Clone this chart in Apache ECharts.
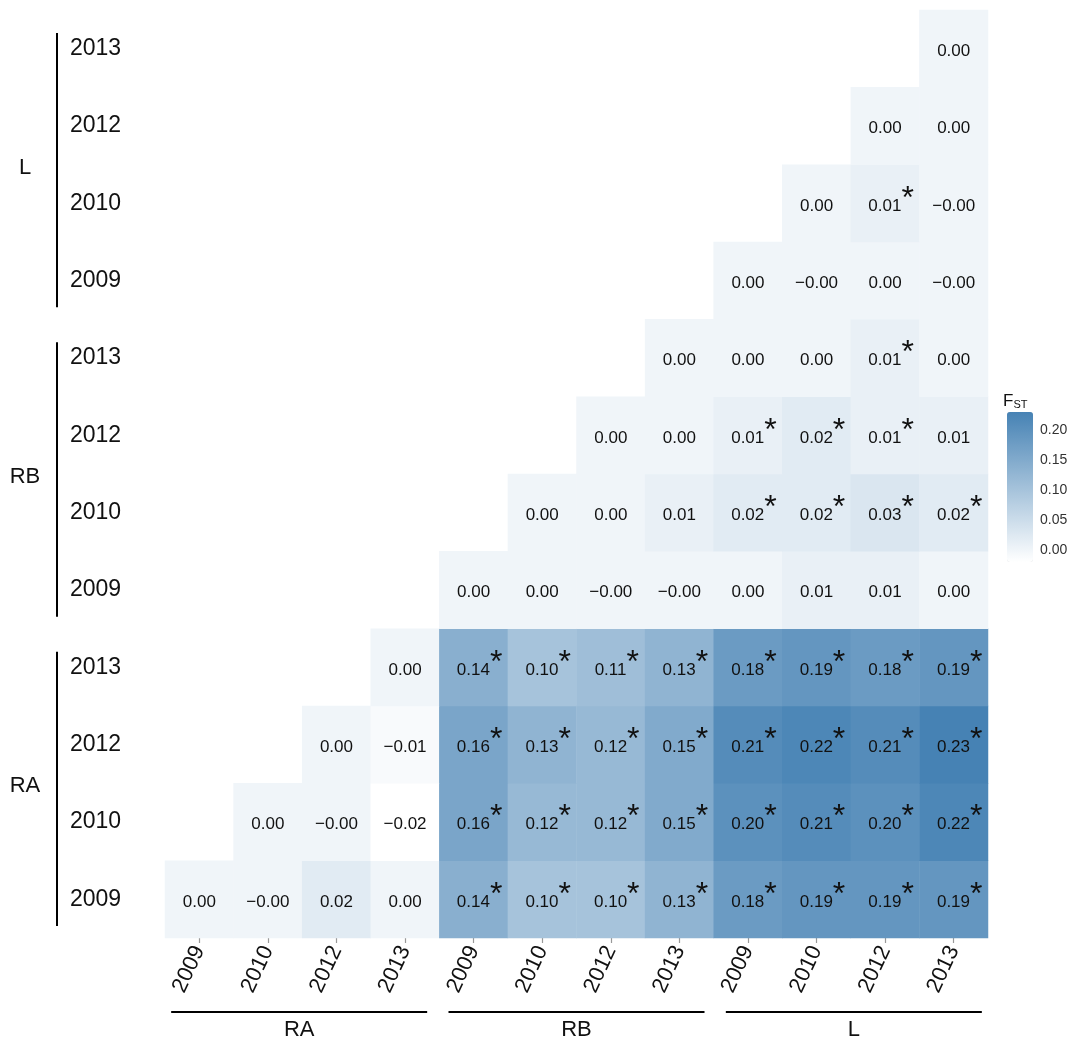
<!DOCTYPE html>
<html>
<head>
<meta charset="utf-8">
<title>Pairwise FST</title>
<script src="https://cdn.jsdelivr.net/npm/echarts@6/dist/echarts.min.js"></script>
<style>
  html, body { margin: 0; padding: 0; background: #ffffff; }
  #main { width: 1071px; height: 1039px; }
</style>
</head>
<body>
<div id="main"></div>
<script>
// Sampling sites and years (same order on both axes)
const groups = ['RA', 'RB', 'L'];
const years = ['2009', '2010', '2012', '2013'];

// Pairwise FST per row (row = site/year on the vertical axis, columns in axis order);
// null = pair not shown (lower half). -0.00 marks a tiny negative estimate.
const rowRA2009 = [0.00, -0.00, 0.02, 0.00, 0.14, 0.10, 0.10, 0.13, 0.18, 0.19, 0.19, 0.19];
const rowRA2010 = [null, 0.00, -0.00, -0.02, 0.16, 0.12, 0.12, 0.15, 0.20, 0.21, 0.20, 0.22];
const rowRA2012 = [null, null, 0.00, -0.01, 0.16, 0.13, 0.12, 0.15, 0.21, 0.22, 0.21, 0.23];
const rowRA2013 = [null, null, null, 0.00, 0.14, 0.10, 0.11, 0.13, 0.18, 0.19, 0.18, 0.19];
const rowRB2009 = [null, null, null, null, 0.00, 0.00, -0.00, -0.00, 0.00, 0.01, 0.01, 0.00];
const rowRB2010 = [null, null, null, null, null, 0.00, 0.00, 0.01, 0.02, 0.02, 0.03, 0.02];
const rowRB2012 = [null, null, null, null, null, null, 0.00, 0.00, 0.01, 0.02, 0.01, 0.01];
const rowRB2013 = [null, null, null, null, null, null, null, 0.00, 0.00, 0.00, 0.01, 0.00];
const rowL2009  = [null, null, null, null, null, null, null, null, 0.00, -0.00, 0.00, -0.00];
const rowL2010  = [null, null, null, null, null, null, null, null, null, 0.00, 0.01, -0.00];
const rowL2012  = [null, null, null, null, null, null, null, null, null, null, 0.00, 0.00];
const rowL2013  = [null, null, null, null, null, null, null, null, null, null, null, 0.00];

// Significance flags (1 = significant, drawn with an asterisk)
const sigRA2009 = [0, 0, 0, 0, 1, 1, 1, 1, 1, 1, 1, 1];
const sigRA2010 = [0, 0, 0, 0, 1, 1, 1, 1, 1, 1, 1, 1];
const sigRA2012 = [0, 0, 0, 0, 1, 1, 1, 1, 1, 1, 1, 1];
const sigRA2013 = [0, 0, 0, 0, 1, 1, 1, 1, 1, 1, 1, 1];
const sigRB2009 = [0, 0, 0, 0, 0, 0, 0, 0, 0, 0, 0, 0];
const sigRB2010 = [0, 0, 0, 0, 0, 0, 0, 0, 1, 1, 1, 1];
const sigRB2012 = [0, 0, 0, 0, 0, 0, 0, 0, 1, 1, 1, 0];
const sigRB2013 = [0, 0, 0, 0, 0, 0, 0, 0, 0, 0, 1, 0];
const sigL2009  = [0, 0, 0, 0, 0, 0, 0, 0, 0, 0, 0, 0];
const sigL2010  = [0, 0, 0, 0, 0, 0, 0, 0, 0, 0, 1, 0];
const sigL2012  = [0, 0, 0, 0, 0, 0, 0, 0, 0, 0, 0, 0];
const sigL2013  = [0, 0, 0, 0, 0, 0, 0, 0, 0, 0, 0, 0];

// Colour scale limits and legend ticks
const fstMin = -0.02;
const fstMax = 0.23;
const legendTicks = [0.00, 0.05, 0.10, 0.15, 0.20];

const rows = [rowRA2009, rowRA2010, rowRA2012, rowRA2013, rowRB2009, rowRB2010,
              rowRB2012, rowRB2013, rowL2009, rowL2010, rowL2012, rowL2013];
const sigs = [sigRA2009, sigRA2010, sigRA2012, sigRA2013, sigRB2009, sigRB2010,
              sigRB2012, sigRB2013, sigL2009, sigL2010, sigL2012, sigL2013];

const categories = [];
groups.forEach(g => years.forEach(y => categories.push(g + ' ' + y)));

const cells = [];
rows.forEach((row, yi) => {
  row.forEach((v, xi) => {
    if (v === null) return;
    cells.push({ value: [xi, yi, v], sig: sigs[yi][xi] });
  });
});

const FONT = '"Liberation Sans", Arial, Helvetica, sans-serif';
const INK = '#111111';

function fmt(v) {
  const neg = v < 0 || Object.is(v, -0);
  return (neg ? '\u2212' : '') + Math.abs(v).toFixed(2);
}

const chart = echarts.init(document.getElementById('main'), null, { renderer: 'canvas' });

chart.setOption({
  animation: false,
  backgroundColor: '#ffffff',
  grid: [
    { left: 165, right: 83, top: 10, bottom: 101 },
    { left: 1007, top: 412, width: 26, height: 150 }
  ],
  xAxis: [
    {
      type: 'category',
      data: categories,
      gridIndex: 0,
      axisLine: { show: false },
      axisTick: { show: true, alignWithLabel: true, length: 5, lineStyle: { color: '#999999', width: 1.2 } },
      axisLabel: {
        rotate: 65, margin: 9, fontSize: 22, color: INK, fontFamily: FONT,
        formatter: v => v.split(' ')[1]
      },
      splitLine: { show: false }
    },
    { type: 'value', gridIndex: 1, show: false, min: 0, max: 1 }
  ],
  yAxis: [
    {
      type: 'category',
      data: categories,
      gridIndex: 0,
      axisLine: { show: false },
      axisTick: { show: false },
      axisLabel: {
        align: 'left', margin: 95, fontSize: 23, color: INK, fontFamily: FONT,
        padding: [4, 0, 0, 0],
        formatter: v => v.split(' ')[1]
      },
      splitLine: { show: false }
    },
    {
      type: 'value', gridIndex: 1, position: 'right', min: fstMin, max: fstMax,
      axisLine: { show: false },
      splitLine: { show: false },
      axisTick: { show: true, inside: true, length: 5, customValues: legendTicks,
                  lineStyle: { color: 'rgba(255,255,255,0.85)', width: 1 } },
      axisLabel: { show: true, margin: 7, fontSize: 14, color: '#333333', fontFamily: FONT,
                   customValues: legendTicks, formatter: v => v.toFixed(2) }
    },
    {
      type: 'value', gridIndex: 1, position: 'left', min: fstMin, max: fstMax,
      axisLine: { show: false },
      splitLine: { show: false },
      axisLabel: { show: false },
      axisTick: { show: true, inside: true, length: 5, customValues: legendTicks,
                  lineStyle: { color: 'rgba(255,255,255,0.85)', width: 1 } }
    }
  ],
  visualMap: {
    type: 'continuous',
    seriesIndex: 0,
    dimension: 2,
    min: fstMin,
    max: fstMax,
    calculable: false,
    hoverLink: false,
    orient: 'vertical',
    left: 1007,
    top: 412,
    padding: 0,
    itemWidth: 26,
    itemHeight: 150,
    inRange: { color: ['#ffffff', '#4682b4'] }
  },
  series: [
    {
      type: 'heatmap',
      xAxisIndex: 0,
      yAxisIndex: 0,
      data: cells,
      itemStyle: { borderWidth: 0 },
      emphasis: { disabled: true },
      label: {
        show: true,
        offset: [0, 2.5],
        formatter: p => {
          const txt = fmt(p.value[2]);
          return p.data.sig ? '{p|}{v|' + txt + '}{s|*}' : '{v|' + txt + '}';
        },
        rich: {
          v: { fontSize: 17, color: INK, fontFamily: FONT },
          p: { width: 12, fontSize: 17 },
          s: { fontSize: 32, color: INK, fontFamily: FONT, padding: [0, 0, 14, 0] }
        }
      }
    }
  ]
});

// Group brackets and names along both axes
function drawBrackets() {
  const px = i => chart.convertToPixel({ xAxisIndex: 0 }, i);
  const py = i => chart.convertToPixel({ yAxisIndex: 0 }, i);
  const cw = px(1) - px(0);
  const ch = py(0) - py(1);
  const bottomY = py(0) + ch / 2;
  const elements = [];
  groups.forEach((g, gi) => {
    const first = gi * years.length;
    const last = first + years.length - 1;
    // horizontal bracket under the x labels, centred on its group
    const cx = (px(first) + px(last)) / 2 + (gi - 1) * 3;
    const half = 128;
    elements.push({ type: 'line', shape: { x1: cx - half, y1: bottomY + 74, x2: cx + half, y2: bottomY + 74 },
                    style: { stroke: '#000', lineWidth: 2 } });
    elements.push({ type: 'text', x: cx, y: bottomY + 92,
                    style: { text: g, fill: INK, font: '22px ' + FONT,
                             align: 'center', verticalAlign: 'middle' } });
    // vertical bracket beside the y labels
    const yTop = py(last) - ch / 2 + 23;
    const yBot = py(first) + ch / 2 - 12;
    elements.push({ type: 'line', shape: { x1: 57, y1: yTop, x2: 57, y2: yBot },
                    style: { stroke: '#000', lineWidth: 2 } });
    elements.push({ type: 'text', x: 25, y: (py(first) + py(last)) / 2 + 3,
                    style: { text: g, fill: INK, font: '22px ' + FONT,
                             align: 'center', verticalAlign: 'middle' } });
  });
  // legend title
  elements.push({ type: 'text', x: 1003, y: 401,
                  style: { text: '{f|F}{t|ST}', verticalAlign: 'middle', align: 'left',
                           rich: { f: { fontSize: 17, fontFamily: FONT, fill: INK, color: INK },
                                   t: { fontSize: 11, fontFamily: FONT, fill: INK, color: INK, padding: [8, 0, 0, 0] } } } });
  chart.setOption({ graphic: elements });
}
drawBrackets();
</script>
</body>
</html>
